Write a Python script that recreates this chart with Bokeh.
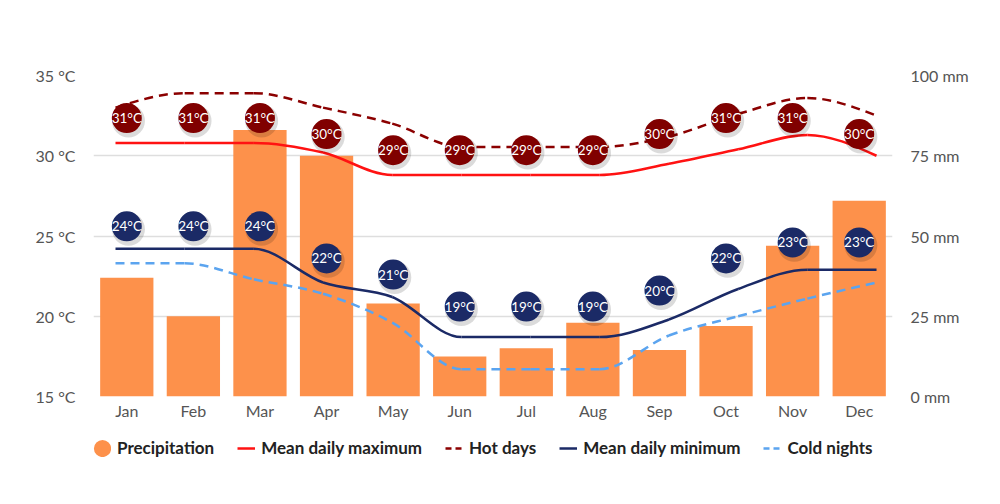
import numpy as np
from bokeh.plotting import figure
from bokeh.layouts import column
from bokeh.models import (ColumnDataSource, Range1d, LinearAxis, FixedTicker,
                          Legend, LegendItem)
from bokeh.core.properties import value
from bokeh.embed import file_html
from bokeh.resources import INLINE

# ---------------- data ----------------
months = ["Jan", "Feb", "Mar", "Apr", "May", "Jun",
          "Jul", "Aug", "Sep", "Oct", "Nov", "Dec"]
precip_mm = [37, 25, 83, 75, 29, 12.5, 15, 23, 14.5, 22, 47, 61]
mean_max = [30.8, 30.8, 30.8, 30.2, 28.8, 28.8, 28.8, 28.8, 29.5, 30.4, 31.3, 30.0]
hot_days = [33.0, 33.9, 33.9, 33.0, 32.0, 30.55, 30.55, 30.55, 31.2, 32.6, 33.6, 32.5]
mean_min = [24.2, 24.2, 24.2, 22.1, 21.2, 18.7, 18.7, 18.7, 19.8, 21.7, 22.9, 22.9]
cold_nights = [23.3, 23.3, 22.3, 21.4, 19.6, 16.7, 16.7, 16.7, 18.8, 20.0, 21.1, 22.1]
max_labels = [31, 31, 31, 30, 29, 29, 29, 29, 30, 31, 31, 30]
min_labels = [24, 24, 24, 22, 21, 19, 19, 19, 20, 22, 23, 23]
temp_ticks = [15, 20, 25, 30, 35]
mm_ticks = [0, 25, 50, 75, 100]
legend_labels = ["Precipitation", "Mean daily maximum", "Hot days",
                 "Mean daily minimum", "Cold nights"]

# ---------------- styles ----------------
C_BAR = "#fd914b"
C_MAX = "#ff1212"
C_HOT = "#8b0000"
C_MIN = "#1b2a66"
C_COLD = "#5ba4ef"
C_HOT_LBL = "#800000"
C_MIN_LBL = "#1b2a66"
FONT = "Lato"
TICK_COLOR = "#555555"

idx = list(range(len(months)))


def monotone_segments(ys):
    """Monotone cubic (d3 curveMonotoneX) converted to Bezier segments."""
    n = len(ys)
    s = [ys[i + 1] - ys[i] for i in range(n - 1)]
    m = [0.0] * n
    for i in range(1, n - 1):
        a, b = s[i - 1], s[i]
        p_ = (a + b) / 2.0
        m[i] = float((np.sign(a) + np.sign(b)) * min(abs(a), abs(b), 0.5 * abs(p_)))
    m[0] = (3 * s[0] - m[1]) / 2.0
    m[-1] = (3 * s[-1] - m[-2]) / 2.0
    xs = list(range(n))
    return dict(
        x0=xs[:-1], y0=ys[:-1], x1=xs[1:], y1=ys[1:],
        cx0=[x + 1 / 3 for x in xs[:-1]],
        cy0=[ys[i] + m[i] / 3 for i in range(n - 1)],
        cx1=[x - 1 / 3 for x in xs[1:]],
        cy1=[ys[i + 1] - m[i + 1] / 3 for i in range(n - 1)],
    )


# ---------------- main chart ----------------
p = figure(frame_width=799, frame_height=321, output_backend="svg",
           toolbar_location=None,
           x_range=Range1d(-0.5, len(months) - 0.5), y_range=Range1d(15, 35),
           min_border_left=93, min_border_right=107, min_border_top=75,
           min_border_bottom=34, outline_line_color=None)
p.extra_y_ranges = {"mm": Range1d(0, 100)}
p.extra_x_ranges = {"line": Range1d(-0.318, 11.231)}

p.xaxis.ticker = FixedTicker(ticks=idx)
p.xaxis.major_label_overrides = {i: m for i, m in zip(idx, months)}
p.yaxis.ticker = FixedTicker(ticks=temp_ticks)
p.yaxis.major_label_overrides = {t: f"{t} °C" for t in temp_ticks}
right = LinearAxis(y_range_name="mm", ticker=FixedTicker(ticks=mm_ticks))
right.major_label_overrides = {t: f"{t} mm" for t in mm_ticks}
p.add_layout(right, "right")

for ax in [p.yaxis[0], right, p.xaxis[0]]:
    ax.axis_line_color = None
    ax.major_tick_line_color = None
    ax.minor_tick_line_color = None
    ax.major_tick_out = 0
    ax.major_tick_in = 0
    ax.minor_tick_out = 0
    ax.minor_tick_in = 0
    ax.major_label_text_font = FONT
    ax.major_label_text_font_size = "16px"
    ax.major_label_text_color = TICK_COLOR
p.yaxis[0].major_label_standoff = 18
right.major_label_standoff = 18
p.xaxis[0].major_label_standoff = 4

p.xgrid.grid_line_color = None
p.ygrid.grid_line_color = "#dedede"
p.ygrid.grid_line_width = 1.5

# bars
bar_src = ColumnDataSource(dict(x=idx, mm=precip_mm))
p.vbar(x="x", top="mm", width=0.8, source=bar_src, y_range_name="mm",
       fill_color=C_BAR, line_color=None)

# smooth lines
series = [(mean_max, C_MAX, "solid"), (hot_days, C_HOT, "9 6"),
          (mean_min, C_MIN, "solid"), (cold_nights, C_COLD, "9 6")]
for ys, color, dash in series:
    src = ColumnDataSource(monotone_segments(ys))
    p.bezier(x0="x0", y0="y0", x1="x1", y1="y1", cx0="cx0", cy0="cy0",
             cx1="cx1", cy1="cy1", source=src, x_range_name="line",
             line_color=color, line_width=2.5, line_dash=dash)

# value labels
for labels, color, lift in [(max_labels, C_HOT_LBL, 1.35), (min_labels, C_MIN_LBL, 1.6)]:
    src = ColumnDataSource(dict(x=idx, xsh=[i + 0.025 for i in idx],
                                y=[v + lift for v in labels],
                                ysh=[v + lift - 0.18 for v in labels],
                                text=[f"{v}°C" for v in labels]))
    p.scatter(x="xsh", y="ysh", source=src,
              marker="circle", size=33, fill_color="black", fill_alpha=0.14,
              line_color=None)
    p.scatter(x="x", y="y", source=src, marker="circle", size=30,
              fill_color=color, line_color=None)
    p.text(x="x", y="y", text="text", source=src, text_color="white",
           text_font=value(FONT), text_font_size="13.5px", text_align="center",
           text_baseline="middle")

# ---------------- legend strip ----------------
lg = figure(width=1000, height=74, output_backend="svg", toolbar_location=None,
            x_range=Range1d(0, 1), y_range=Range1d(0, 1),
            x_axis_type=None, y_axis_type=None, min_border=0,
            min_border_left=0, min_border_right=0, min_border_top=0,
            min_border_bottom=0, outline_line_color=None)
lg.xgrid.grid_line_color = None
lg.ygrid.grid_line_color = None

nan = [float("nan")]
r_prec = lg.scatter(x=nan, y=nan, marker="circle", size=6, fill_color=C_BAR,
                    line_color=C_BAR, line_width=10)
proxies = [r_prec]
for ys, color, dash in series:
    proxies.append(lg.line(x=nan, y=nan, line_color=color, line_width=2.5,
                           line_dash="6 4" if dash != "solid" else "solid"))

legend = Legend(items=[LegendItem(label=lab, renderers=[r])
                       for lab, r in zip(legend_labels, proxies)],
                orientation="horizontal", location=(0, 46),
                border_line_color=None, background_fill_alpha=0,
                glyph_width=18, glyph_height=18, label_height=18,
                label_standoff=6, spacing=23, padding=4, margin=0,
                label_text_font=FONT, label_text_font_size="17px",
                label_text_font_style="bold", label_text_color="#222222")
lg.add_layout(legend, "center")

layout = column(p, lg, spacing=0)
open("out.html", "w").write(file_html(layout, INLINE))
